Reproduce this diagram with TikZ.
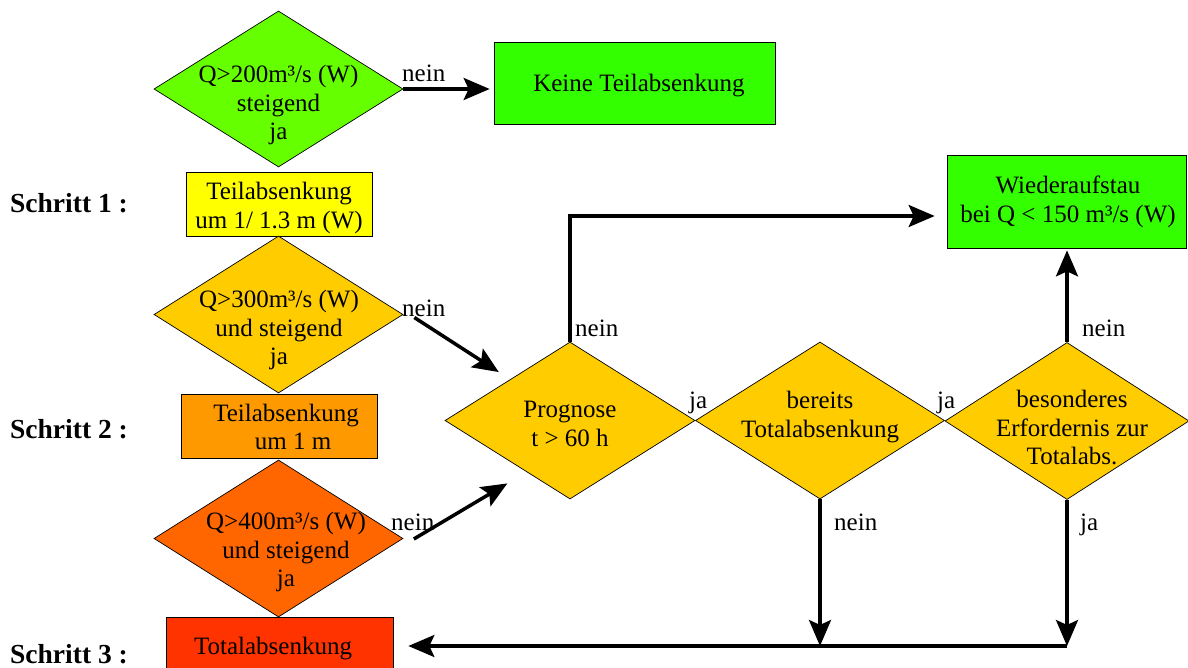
\documentclass[tikz,border=0pt]{standalone}
\usepackage{fontspec}
\setmainfont{Liberation Serif}
\usetikzlibrary{shapes.geometric,arrows.meta,calc}
\definecolor{cLime}{HTML}{66FF00}
\definecolor{cGreen}{HTML}{33FF00}
\definecolor{cYellow}{HTML}{FFFF00}
\definecolor{cGold}{HTML}{FFCC00}
\definecolor{cOrange}{HTML}{FF9900}
\definecolor{cDark}{HTML}{FF6600}
\definecolor{cRed}{HTML}{FF3300}
\begin{document}
\begin{tikzpicture}[x=1pt,y=-1pt,
  dia/.style={shape=diamond, draw=black, line width=0.7pt, inner sep=0pt},
  box/.style={draw=black, line width=0.7pt, inner sep=0pt},
  txt/.style={align=center, inner sep=0pt, font=\fontsize{25}{28.5}\selectfont},
  lbl/.style={anchor=base west, inner sep=0pt, font=\fontsize{25}{28.5}\selectfont},
  stp/.style={anchor=base west, inner sep=0pt, font=\fontsize{27.5}{30}\selectfont\bfseries},
  arr/.style={line width=3.5pt, -{Stealth[length=26pt,width=22pt,inset=5pt]}},
  ]
\useasboundingbox (0,0) rectangle (1188,668);

% left column
\node[dia, fill=cLime, minimum width=249pt, minimum height=156pt] (d1) at (278.5,89) {};
\node[txt] (t1) at (278.5,105) {Q>200m³/s (W)\\steigend\\ja};
\node[box, fill=cGreen, minimum width=281pt, minimum height=82pt] (keine) at (634.5,83) {};
\node[txt] (tkeine) at (639,86) {Keine Teilabsenkung};

\node[box, fill=cYellow, minimum width=186pt, minimum height=64pt] (yel) at (279,204) {};
\node[txt] (tyel) at (279,208) {Teilabsenkung\\um 1/ 1.3 m (W)};

\node[dia, fill=cGold, minimum width=249pt, minimum height=157pt] (d2) at (278.5,314.5) {};
\node[txt] (t2) at (279,330) {Q>300m³/s (W)\\und steigend\\ja};

\node[box, fill=cOrange, minimum width=196pt, minimum height=64pt] (ora) at (279,426) {};
\node[txt] (tora) at (286,427) {Teilabsenkung\\\hspace*{14pt}um 1 m};

\node[dia, fill=cDark, minimum width=249pt, minimum height=157pt] (d3) at (278.5,538.5) {};
\node[txt] (t3) at (286,552) {Q>400m³/s (W)\\und steigend\\ja};

\node[box, fill=cRed, minimum width=227pt, minimum height=55pt] (red) at (279.5,644.5) {};
\node[txt] (tred) at (273,649) {Totalabsenkung};

% step labels
\node[stp] (s1) at (10,213) {Schritt 1 :};
\node[stp] (s2) at (10,438) {Schritt 2 :};
\node[stp] (s3) at (10,663) {Schritt 3 :};

% right row
\node[dia, fill=cGold, minimum width=250pt, minimum height=157pt] (prog) at (570,420.5) {};
\node[txt] (tprog) at (570,424) {Prognose\\t > 60 h};
\node[dia, fill=cGold, minimum width=249pt, minimum height=157pt] (ber) at (820,420.5) {};
\node[txt] (tber) at (820,417) {bereits\\Totalabsenkung};
\node[dia, fill=cGold, minimum width=244pt, minimum height=157pt] (bes) at (1067,421) {};
\node[txt] (tbes) at (1072,428) {besonderes\\Erfordernis zur\\Totalabs.};

\node[box, fill=cGreen, minimum width=239pt, minimum height=93pt] (wied) at (1066.5,201.5) {};
\node[txt] (twied) at (1068,202) {Wiederaufstau\\bei Q < 150 m³/s (W)};

% connector labels
\node[lbl] (n1) at (402,82) {nein};
\node[lbl] (n2) at (402,316) {nein};
\node[lbl] (n3) at (391,530) {nein};
\node[lbl] (n4) at (575,336) {nein};
\node[lbl] (n5) at (1082,336) {nein};
\node[lbl] (j1) at (689,408) {ja};
\node[lbl] (j2) at (937,408) {ja};
\node[lbl] (n6) at (834,530) {nein};
\node[lbl] (j3) at (1080,530) {ja};

% connectors
\coordinate (wline) at (0,216);
\coordinate (hline) at (0,646);
\draw[arr, shorten >=4pt] (d1.east) -- (d1.east -| keine.west);
\draw[arr] ($(d2.east)+(11,3)$) -- ($(prog.north west)+(-8.5,-9)$);
\draw[arr] ($(d3.east)+(10.5,0.5)$) -- ($(prog.south west)+(0,23.5)$);
\draw[arr, shorten >=12pt] (prog.north) |- (wied.west |- wline);
\draw[arr, shorten >=2pt] (bes.north) -- (bes.north |- wied.south);
\draw[arr] (ber.south) -- (ber.south |- hline);
\draw[arr] (bes.south) -- (bes.south |- hline);
\draw[arr, shorten >=15pt] (bes.south |- hline) -- (red.east |- hline);
\end{tikzpicture}
\end{document}
